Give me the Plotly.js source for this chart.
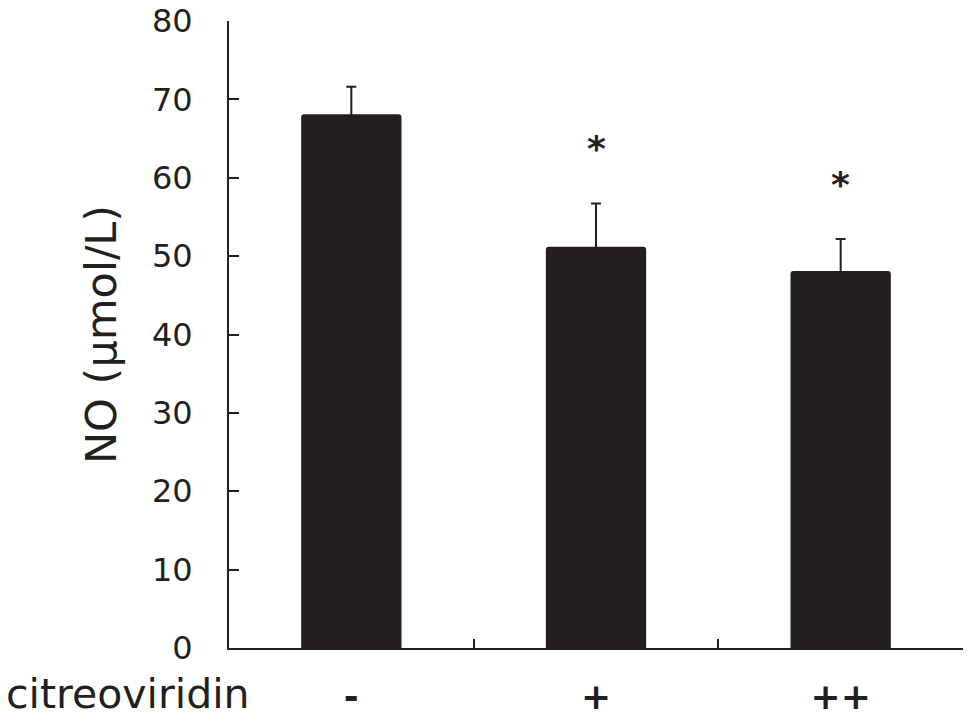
<!DOCTYPE html>
<html>
<head>
<meta charset="utf-8">
<script src="https://cdn.plot.ly/plotly-3.0.1.min.js"></script>
<style>html,body{margin:0;padding:0;background:#fff;}</style>
</head>
<body>
<div id="chart" style="width:969px;height:719px;"></div>
<script>
const categories = ["-", "+", "++"];
const noValues = [68.1, 51.2, 48.1];
const errSD = [3.5, 5.5, 4.1];
const sigLabels = ["", "*", "*"];
const sigY = [null, 64.3, 59.7];
const yTicks = [0, 10, 20, 30, 40, 50, 60, 70, 80];

const ink = "#231f20";
const fontFam = "DejaVu Sans, Arial, sans-serif";

const trace = {
  type: "bar",
  x: categories,
  y: noValues,
  width: 0.41,
  marker: {color: ink, cornerradius: 3, line: {width: 0}},
  error_y: {type: "data", symmetric: true, array: errSD,
            color: ink, thickness: 2, width: 5},
  hoverinfo: "x+y"
};

const annotations = [];
categories.forEach((c, i) => {
  if (sigLabels[i]) {
    annotations.push({x: c, y: sigY[i], xref: "x", yref: "y", text: "<b>" + sigLabels[i] + "</b>",
      showarrow: false, font: {family: fontFam, size: 36, color: ink}, yanchor: "middle", yshift: -4});
  }
});
annotations.push({x: -0.305, y: -0.074, xref: "paper", yref: "paper", text: "citreoviridin",
  showarrow: false, xanchor: "left", yanchor: "middle", borderpad: 0,
  font: {family: fontFam, size: 41, color: ink}});

const layout = {
  width: 969, height: 719,
  margin: {l: 229, r: 6, t: 21, b: 71},
  paper_bgcolor: "#ffffff", plot_bgcolor: "#ffffff",
  showlegend: false,
  font: {family: fontFam, color: ink},
  xaxis: {
    type: "category", range: [-0.5, 2.5], tickson: "boundaries",
    tickvals: categories, ticktext: categories.map(c => "<b>" + c + "</b>"),
    ticks: "inside", ticklen: 9, tickwidth: 2, tickcolor: ink,
    showline: true, linecolor: ink, linewidth: 2, showgrid: false, zeroline: false,
    tickfont: {family: fontFam, size: 36, color: ink}, ticklabelstandoff: 16
  },
  yaxis: {
    range: [0, 80], tickvals: yTicks, ticktext: yTicks.map(String),
    ticks: "inside", ticklen: 10, tickwidth: 2, tickcolor: ink,
    showline: true, linecolor: ink, linewidth: 2, showgrid: false, zeroline: false,
    tickfont: {family: fontFam, size: 32, color: ink}, ticklabelstandoff: 28,
    title: {text: "NO (μmol/L)", font: {family: fontFam, size: 43, color: ink}, standoff: 22}
  },
  annotations: annotations
};

Plotly.newPlot("chart", [trace], layout, {displayModeBar: false, staticPlot: true});
</script>
</body>
</html>
